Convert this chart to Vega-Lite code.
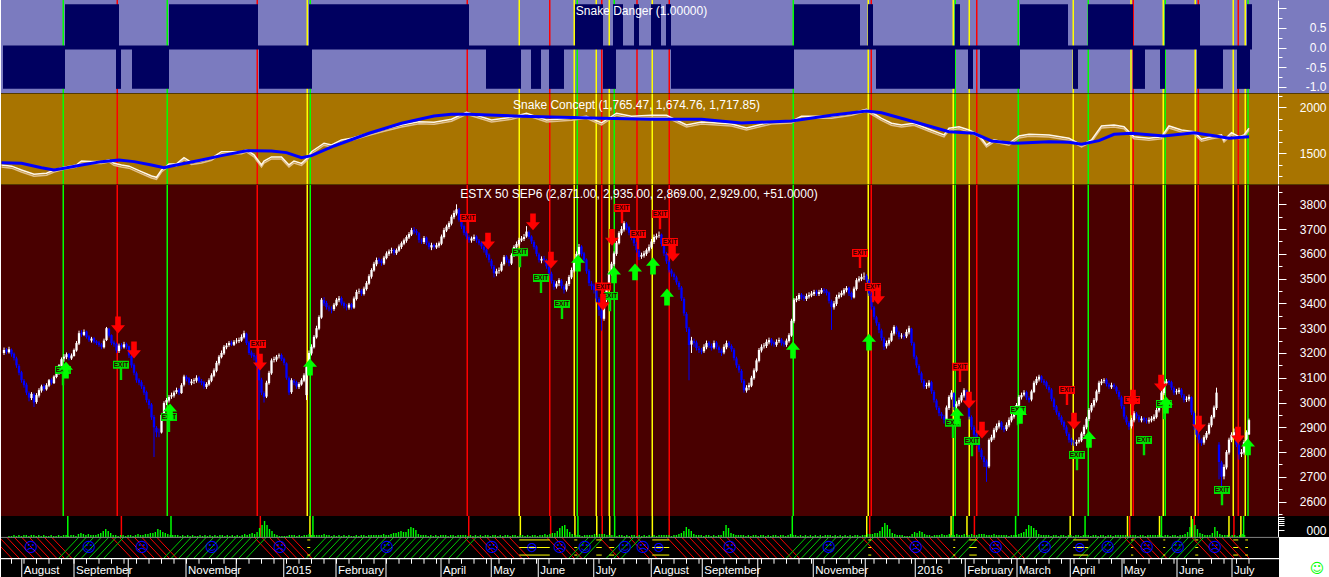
{
"$schema":"https://vega.github.io/schema/vega-lite/v6.json",
"background":"#FFFFFF",
"padding":0,
"spacing":0,
"bounds":"flush",
"config":{"view":{"stroke":null},"axis":{"labelFont":"Liberation Sans","labelColor":"#FFFFFF","domainColor":"#FFFFFF","tickColor":"#FFFFFF","grid":false},"text":{"font":"Liberation Sans"}},
"resolve":{"scale":{"x":"independent","y":"independent","color":"independent"}},
"datasets":{
"k":[
{"i":0,"o":3200,"h":3222,"l":3192,"c":3212,"v":1},{"i":1,"o":3214,"h":3220,"l":3195,"c":3205,"v":1},{"i":2,"o":3203,"h":3225,"l":3198,"c":3215,"v":2},{"i":3,"o":3213,"h":3218,"l":3185,"c":3195,"v":1},{"i":4,"o":3197,"h":3202,"l":3170,"c":3180,"v":2},{"i":5,"o":3178,"h":3185,"l":3140,"c":3150,"v":1},{"i":6,"o":3148,"h":3155,"l":3110,"c":3120,"v":2},{"i":7,"o":3122,"h":3128,"l":3080,"c":3090,"v":2},{"i":8,"o":3088,"h":3095,"l":3060,"c":3070,"v":1},{"i":9,"o":3072,"h":3080,"l":3030,"c":3040,"v":2},
{"i":10,"o":3038,"h":3045,"l":3005,"c":3020,"v":2},{"i":11,"o":3018,"h":3042,"l":3010,"c":3035,"v":1},{"i":12,"o":3033,"h":3040,"l":2982,"c":3000,"v":2},{"i":13,"o":3002,"h":3038,"l":2995,"c":3030,"v":1},{"i":14,"o":3028,"h":3058,"l":3020,"c":3050,"v":2},{"i":15,"o":3048,"h":3072,"l":3040,"c":3065,"v":1},{"i":16,"o":3067,"h":3075,"l":3045,"c":3055,"v":1},{"i":17,"o":3053,"h":3078,"l":3048,"c":3070,"v":2},{"i":18,"o":3068,"h":3095,"l":3062,"c":3090,"v":1},{"i":19,"o":3092,"h":3098,"l":3072,"c":3080,"v":1},
{"i":20,"o":3078,"h":3110,"l":3075,"c":3105,"v":2},{"i":21,"o":3103,"h":3126,"l":3098,"c":3120,"v":1},{"i":22,"o":3118,"h":3155,"l":3112,"c":3150,"v":2},{"i":23,"o":3148,"h":3182,"l":3140,"c":3175,"v":2},{"i":24,"o":3177,"h":3195,"l":3165,"c":3185,"v":1},{"i":25,"o":3183,"h":3202,"l":3175,"c":3195,"v":2},{"i":26,"o":3197,"h":3200,"l":3170,"c":3180,"v":2},{"i":27,"o":3178,"h":3198,"l":3172,"c":3190,"v":1},{"i":28,"o":3188,"h":3218,"l":3185,"c":3212,"v":3},{"i":29,"o":3210,"h":3248,"l":3205,"c":3240,"v":4},
{"i":30,"o":3238,"h":3290,"l":3232,"c":3280,"v":3},{"i":31,"o":3282,"h":3292,"l":3265,"c":3275,"v":2},{"i":32,"o":3273,"h":3295,"l":3268,"c":3285,"v":3},{"i":33,"o":3287,"h":3290,"l":3258,"c":3265,"v":2},{"i":34,"o":3267,"h":3272,"l":3245,"c":3252,"v":2},{"i":35,"o":3250,"h":3265,"l":3242,"c":3258,"v":2},{"i":36,"o":3260,"h":3265,"l":3238,"c":3245,"v":3},{"i":37,"o":3247,"h":3252,"l":3232,"c":3240,"v":4},{"i":38,"o":3242,"h":3248,"l":3225,"c":3232,"v":6},{"i":39,"o":3234,"h":3240,"l":3215,"c":3225,"v":8},
{"i":40,"o":3223,"h":3258,"l":3218,"c":3250,"v":6},{"i":41,"o":3252,"h":3305,"l":3248,"c":3300,"v":4},{"i":42,"o":3298,"h":3302,"l":3262,"c":3270,"v":2},{"i":43,"o":3272,"h":3275,"l":3232,"c":3240,"v":2},{"i":44,"o":3242,"h":3250,"l":3225,"c":3235,"v":1},{"i":45,"o":3237,"h":3242,"l":3200,"c":3210,"v":2},{"i":46,"o":3208,"h":3238,"l":3200,"c":3230,"v":2},{"i":47,"o":3232,"h":3240,"l":3215,"c":3225,"v":1},{"i":48,"o":3223,"h":3245,"l":3218,"c":3235,"v":2},{"i":49,"o":3237,"h":3242,"l":3215,"c":3225,"v":2},
{"i":50,"o":3227,"h":3230,"l":3180,"c":3190,"v":1},{"i":51,"o":3188,"h":3192,"l":3140,"c":3150,"v":2},{"i":52,"o":3152,"h":3158,"l":3110,"c":3120,"v":3},{"i":53,"o":3118,"h":3125,"l":3080,"c":3090,"v":2},{"i":54,"o":3092,"h":3098,"l":3070,"c":3080,"v":2},{"i":55,"o":3082,"h":3090,"l":3055,"c":3065,"v":3},{"i":56,"o":3063,"h":3070,"l":3030,"c":3040,"v":3},{"i":57,"o":3042,"h":3048,"l":3000,"c":3010,"v":4},{"i":58,"o":3008,"h":3015,"l":2975,"c":2990,"v":4},{"i":59,"o":2992,"h":2998,"l":2930,"c":2940,"v":5},
{"i":60,"o":2942,"h":2950,"l":2780,"c":2900,"v":8},{"i":61,"o":2898,"h":2905,"l":2860,"c":2880,"v":7},{"i":62,"o":2878,"h":2895,"l":2860,"c":2877,"v":5},{"i":63,"o":2879,"h":2958,"l":2875,"c":2950,"v":4},{"i":64,"o":2948,"h":3005,"l":2942,"c":2998,"v":3},{"i":65,"o":3000,"h":3018,"l":2990,"c":3010,"v":2},{"i":66,"o":3008,"h":3030,"l":3000,"c":3022,"v":2},{"i":67,"o":3024,"h":3040,"l":3015,"c":3030,"v":2},{"i":68,"o":3028,"h":3048,"l":3020,"c":3040,"v":2},{"i":69,"o":3042,"h":3060,"l":3035,"c":3050,"v":1},
{"i":70,"o":3052,"h":3058,"l":3030,"c":3040,"v":2},{"i":71,"o":3038,"h":3078,"l":3035,"c":3070,"v":1},{"i":72,"o":3072,"h":3112,"l":3065,"c":3105,"v":2},{"i":73,"o":3103,"h":3110,"l":3085,"c":3095,"v":1},{"i":74,"o":3097,"h":3102,"l":3070,"c":3080,"v":2},{"i":75,"o":3078,"h":3095,"l":3070,"c":3085,"v":1},{"i":76,"o":3087,"h":3098,"l":3075,"c":3090,"v":1},{"i":77,"o":3088,"h":3110,"l":3080,"c":3100,"v":2},{"i":78,"o":3102,"h":3108,"l":3078,"c":3085,"v":1},{"i":79,"o":3087,"h":3095,"l":3070,"c":3080,"v":2},
{"i":80,"o":3082,"h":3088,"l":3055,"c":3065,"v":1},{"i":81,"o":3063,"h":3082,"l":3055,"c":3075,"v":2},{"i":82,"o":3073,"h":3098,"l":3068,"c":3090,"v":1},{"i":83,"o":3088,"h":3118,"l":3082,"c":3110,"v":2},{"i":84,"o":3108,"h":3138,"l":3102,"c":3130,"v":1},{"i":85,"o":3128,"h":3168,"l":3122,"c":3160,"v":2},{"i":86,"o":3158,"h":3192,"l":3150,"c":3185,"v":2},{"i":87,"o":3183,"h":3210,"l":3178,"c":3200,"v":1},{"i":88,"o":3198,"h":3232,"l":3192,"c":3225,"v":2},{"i":89,"o":3223,"h":3240,"l":3215,"c":3230,"v":1},
{"i":90,"o":3232,"h":3248,"l":3225,"c":3240,"v":2},{"i":91,"o":3242,"h":3250,"l":3228,"c":3235,"v":1},{"i":92,"o":3233,"h":3252,"l":3228,"c":3245,"v":2},{"i":93,"o":3247,"h":3260,"l":3238,"c":3250,"v":1},{"i":94,"o":3248,"h":3262,"l":3240,"c":3252,"v":2},{"i":95,"o":3250,"h":3275,"l":3245,"c":3265,"v":3},{"i":96,"o":3263,"h":3290,"l":3258,"c":3280,"v":2},{"i":97,"o":3278,"h":3282,"l":3232,"c":3240,"v":3},{"i":98,"o":3242,"h":3248,"l":3192,"c":3200,"v":4},{"i":99,"o":3202,"h":3210,"l":3180,"c":3190,"v":3},
{"i":100,"o":3192,"h":3200,"l":3170,"c":3185,"v":5},{"i":101,"o":3187,"h":3192,"l":3140,"c":3150,"v":9},{"i":102,"o":3148,"h":3155,"l":2930,"c":3090,"v":12},{"i":103,"o":3092,"h":3100,"l":3030,"c":3040,"v":16},{"i":104,"o":3038,"h":3045,"l":3000,"c":3022,"v":12},{"i":105,"o":3024,"h":3088,"l":3018,"c":3080,"v":8},{"i":106,"o":3078,"h":3128,"l":3072,"c":3120,"v":6},{"i":107,"o":3118,"h":3178,"l":3112,"c":3170,"v":3},{"i":108,"o":3172,"h":3185,"l":3162,"c":3175,"v":2},{"i":109,"o":3173,"h":3192,"l":3165,"c":3185,"v":1},
{"i":110,"o":3187,"h":3198,"l":3178,"c":3190,"v":1},{"i":111,"o":3192,"h":3198,"l":3168,"c":3175,"v":1},{"i":112,"o":3177,"h":3182,"l":3150,"c":3160,"v":1},{"i":113,"o":3158,"h":3162,"l":3092,"c":3100,"v":2},{"i":114,"o":3098,"h":3105,"l":3030,"c":3040,"v":2},{"i":115,"o":3042,"h":3098,"l":3035,"c":3090,"v":2},{"i":116,"o":3088,"h":3095,"l":3070,"c":3080,"v":1},{"i":117,"o":3082,"h":3088,"l":3055,"c":3065,"v":2},{"i":118,"o":3063,"h":3082,"l":3055,"c":3075,"v":1},{"i":119,"o":3073,"h":3098,"l":3068,"c":3090,"v":2},
{"i":120,"o":3088,"h":3118,"l":3082,"c":3110,"v":2},{"i":121,"o":3030,"h":3160,"l":3010,"c":3143,"v":3},{"i":122,"o":3145,"h":3210,"l":3140,"c":3200,"v":2},{"i":123,"o":3198,"h":3235,"l":3190,"c":3225,"v":2},{"i":124,"o":3223,"h":3272,"l":3218,"c":3265,"v":2},{"i":125,"o":3263,"h":3310,"l":3258,"c":3300,"v":2},{"i":126,"o":3298,"h":3352,"l":3292,"c":3345,"v":2},{"i":127,"o":3343,"h":3422,"l":3338,"c":3415,"v":3},{"i":128,"o":3413,"h":3425,"l":3390,"c":3400,"v":2},{"i":129,"o":3402,"h":3410,"l":3375,"c":3385,"v":2},
{"i":130,"o":3383,"h":3392,"l":3368,"c":3380,"v":1},{"i":131,"o":3378,"h":3388,"l":3360,"c":3375,"v":2},{"i":132,"o":3377,"h":3402,"l":3370,"c":3395,"v":1},{"i":133,"o":3393,"h":3422,"l":3388,"c":3415,"v":2},{"i":134,"o":3413,"h":3430,"l":3405,"c":3420,"v":1},{"i":135,"o":3422,"h":3428,"l":3392,"c":3400,"v":2},{"i":136,"o":3402,"h":3408,"l":3380,"c":3390,"v":1},{"i":137,"o":3388,"h":3398,"l":3372,"c":3385,"v":2},{"i":138,"o":3383,"h":3402,"l":3375,"c":3395,"v":1},{"i":139,"o":3397,"h":3402,"l":3375,"c":3385,"v":1},
{"i":140,"o":3383,"h":3428,"l":3378,"c":3420,"v":2},{"i":141,"o":3418,"h":3455,"l":3412,"c":3446,"v":1},{"i":142,"o":3448,"h":3460,"l":3438,"c":3450,"v":2},{"i":143,"o":3452,"h":3458,"l":3430,"c":3440,"v":2},{"i":144,"o":3438,"h":3468,"l":3432,"c":3460,"v":1},{"i":145,"o":3458,"h":3490,"l":3452,"c":3482,"v":2},{"i":146,"o":3480,"h":3518,"l":3475,"c":3510,"v":2},{"i":147,"o":3508,"h":3542,"l":3500,"c":3535,"v":2},{"i":148,"o":3533,"h":3568,"l":3528,"c":3560,"v":2},{"i":149,"o":3558,"h":3585,"l":3550,"c":3575,"v":2},
{"i":150,"o":3577,"h":3585,"l":3560,"c":3570,"v":2},{"i":151,"o":3572,"h":3580,"l":3552,"c":3563,"v":3},{"i":152,"o":3561,"h":3592,"l":3555,"c":3585,"v":2},{"i":153,"o":3583,"h":3610,"l":3578,"c":3602,"v":2},{"i":154,"o":3600,"h":3618,"l":3592,"c":3610,"v":3},{"i":155,"o":3612,"h":3625,"l":3602,"c":3615,"v":4},{"i":156,"o":3617,"h":3622,"l":3595,"c":3605,"v":4},{"i":157,"o":3603,"h":3622,"l":3596,"c":3615,"v":5},{"i":158,"o":3613,"h":3638,"l":3608,"c":3630,"v":6},{"i":159,"o":3628,"h":3650,"l":3620,"c":3643,"v":5},
{"i":160,"o":3641,"h":3662,"l":3635,"c":3655,"v":5},{"i":161,"o":3653,"h":3675,"l":3645,"c":3668,"v":8},{"i":162,"o":3666,"h":3688,"l":3660,"c":3680,"v":10},{"i":163,"o":3678,"h":3705,"l":3672,"c":3696,"v":9},{"i":164,"o":3698,"h":3708,"l":3680,"c":3690,"v":7},{"i":165,"o":3692,"h":3700,"l":3675,"c":3685,"v":3},{"i":166,"o":3683,"h":3688,"l":3645,"c":3656,"v":2},{"i":167,"o":3654,"h":3662,"l":3640,"c":3650,"v":2},{"i":168,"o":3648,"h":3672,"l":3640,"c":3664,"v":2},{"i":169,"o":3666,"h":3670,"l":3635,"c":3645,"v":1},
{"i":170,"o":3643,"h":3650,"l":3618,"c":3628,"v":2},{"i":171,"o":3626,"h":3645,"l":3615,"c":3635,"v":1},{"i":172,"o":3637,"h":3642,"l":3618,"c":3628,"v":2},{"i":173,"o":3626,"h":3645,"l":3620,"c":3635,"v":1},{"i":174,"o":3633,"h":3650,"l":3625,"c":3643,"v":2},{"i":175,"o":3641,"h":3678,"l":3635,"c":3670,"v":2},{"i":176,"o":3668,"h":3705,"l":3662,"c":3696,"v":2},{"i":177,"o":3694,"h":3718,"l":3688,"c":3710,"v":1},{"i":178,"o":3708,"h":3732,"l":3700,"c":3724,"v":2},{"i":179,"o":3722,"h":3758,"l":3715,"c":3750,"v":2},
{"i":180,"o":3748,"h":3775,"l":3740,"c":3765,"v":1},{"i":181,"o":3763,"h":3800,"l":3755,"c":3780,"v":2},{"i":182,"o":3778,"h":3785,"l":3730,"c":3737,"v":2},{"i":183,"o":3739,"h":3745,"l":3700,"c":3710,"v":2},{"i":184,"o":3712,"h":3718,"l":3675,"c":3685,"v":2},{"i":185,"o":3687,"h":3692,"l":3660,"c":3670,"v":1},{"i":186,"o":3668,"h":3675,"l":3645,"c":3656,"v":2},{"i":187,"o":3654,"h":3670,"l":3645,"c":3662,"v":1},{"i":188,"o":3660,"h":3678,"l":3652,"c":3668,"v":2},{"i":189,"o":3670,"h":3675,"l":3645,"c":3655,"v":1},
{"i":190,"o":3653,"h":3660,"l":3635,"c":3643,"v":2},{"i":191,"o":3645,"h":3650,"l":3620,"c":3630,"v":1},{"i":192,"o":3628,"h":3635,"l":3605,"c":3615,"v":2},{"i":193,"o":3617,"h":3622,"l":3585,"c":3595,"v":2},{"i":194,"o":3597,"h":3602,"l":3565,"c":3575,"v":1},{"i":195,"o":3573,"h":3580,"l":3540,"c":3550,"v":2},{"i":196,"o":3548,"h":3555,"l":3505,"c":3522,"v":2},{"i":197,"o":3520,"h":3540,"l":3510,"c":3530,"v":1},{"i":198,"o":3532,"h":3545,"l":3520,"c":3535,"v":2},{"i":199,"o":3533,"h":3568,"l":3528,"c":3560,"v":1},
{"i":200,"o":3558,"h":3595,"l":3552,"c":3587,"v":2},{"i":201,"o":3589,"h":3595,"l":3565,"c":3575,"v":2},{"i":202,"o":3573,"h":3580,"l":3550,"c":3563,"v":1},{"i":203,"o":3561,"h":3602,"l":3555,"c":3595,"v":2},{"i":204,"o":3593,"h":3635,"l":3588,"c":3628,"v":2},{"i":205,"o":3626,"h":3650,"l":3620,"c":3640,"v":1},{"i":206,"o":3638,"h":3665,"l":3630,"c":3656,"v":2},{"i":207,"o":3654,"h":3672,"l":3648,"c":3662,"v":2},{"i":208,"o":3660,"h":3680,"l":3652,"c":3668,"v":1},{"i":209,"o":3670,"h":3712,"l":3665,"c":3690,"v":2},
{"i":210,"o":3688,"h":3695,"l":3660,"c":3668,"v":1},{"i":211,"o":3670,"h":3675,"l":3640,"c":3650,"v":2},{"i":212,"o":3648,"h":3655,"l":3618,"c":3628,"v":2},{"i":213,"o":3630,"h":3635,"l":3590,"c":3600,"v":1},{"i":214,"o":3598,"h":3605,"l":3565,"c":3575,"v":2},{"i":215,"o":3573,"h":3590,"l":3562,"c":3580,"v":2},{"i":216,"o":3582,"h":3592,"l":3565,"c":3575,"v":3},{"i":217,"o":3573,"h":3580,"l":3540,"c":3550,"v":2},{"i":218,"o":3548,"h":3555,"l":3510,"c":3522,"v":3},{"i":219,"o":3520,"h":3528,"l":3480,"c":3490,"v":4},
{"i":220,"o":3488,"h":3495,"l":3455,"c":3466,"v":4},{"i":221,"o":3468,"h":3490,"l":3460,"c":3480,"v":6},{"i":222,"o":3482,"h":3502,"l":3470,"c":3494,"v":9},{"i":223,"o":3492,"h":3498,"l":3460,"c":3470,"v":11},{"i":224,"o":3468,"h":3475,"l":3440,"c":3454,"v":12},{"i":225,"o":3456,"h":3490,"l":3448,"c":3480,"v":8},{"i":226,"o":3478,"h":3515,"l":3470,"c":3507,"v":5},{"i":227,"o":3505,"h":3545,"l":3498,"c":3535,"v":3},{"i":228,"o":3533,"h":3572,"l":3525,"c":3563,"v":2},{"i":229,"o":3561,"h":3610,"l":3555,"c":3600,"v":2},
{"i":230,"o":3598,"h":3640,"l":3590,"c":3628,"v":2},{"i":231,"o":3630,"h":3635,"l":3590,"c":3600,"v":1},{"i":232,"o":3602,"h":3608,"l":3565,"c":3575,"v":2},{"i":233,"o":3577,"h":3582,"l":3520,"c":3530,"v":2},{"i":234,"o":3532,"h":3538,"l":3470,"c":3482,"v":2},{"i":235,"o":3480,"h":3490,"l":3455,"c":3470,"v":2},{"i":236,"o":3472,"h":3480,"l":3440,"c":3454,"v":3},{"i":237,"o":3452,"h":3460,"l":3405,"c":3420,"v":2},{"i":238,"o":3418,"h":3425,"l":3350,"c":3374,"v":3},{"i":239,"o":3372,"h":3380,"l":3290,"c":3340,"v":3},
{"i":240,"o":3338,"h":3422,"l":3330,"c":3415,"v":3},{"i":241,"o":3413,"h":3478,"l":3405,"c":3470,"v":2},{"i":242,"o":3468,"h":3530,"l":3460,"c":3522,"v":2},{"i":243,"o":3520,"h":3568,"l":3512,"c":3560,"v":2},{"i":244,"o":3558,"h":3610,"l":3550,"c":3602,"v":2},{"i":245,"o":3600,"h":3652,"l":3592,"c":3645,"v":1},{"i":246,"o":3643,"h":3692,"l":3638,"c":3685,"v":2},{"i":247,"o":3683,"h":3712,"l":3675,"c":3700,"v":2},{"i":248,"o":3698,"h":3732,"l":3690,"c":3724,"v":1},{"i":249,"o":3722,"h":3728,"l":3695,"c":3705,"v":2},
{"i":250,"o":3707,"h":3712,"l":3675,"c":3685,"v":1},{"i":251,"o":3683,"h":3690,"l":3655,"c":3665,"v":2},{"i":252,"o":3667,"h":3672,"l":3632,"c":3643,"v":2},{"i":253,"o":3641,"h":3648,"l":3605,"c":3615,"v":1},{"i":254,"o":3613,"h":3620,"l":3575,"c":3587,"v":2},{"i":255,"o":3589,"h":3605,"l":3580,"c":3595,"v":1},{"i":256,"o":3593,"h":3612,"l":3585,"c":3602,"v":2},{"i":257,"o":3600,"h":3622,"l":3592,"c":3615,"v":1},{"i":258,"o":3613,"h":3638,"l":3605,"c":3628,"v":2},{"i":259,"o":3626,"h":3660,"l":3620,"c":3650,"v":1},
{"i":260,"o":3648,"h":3678,"l":3640,"c":3668,"v":2},{"i":261,"o":3666,"h":3682,"l":3658,"c":3672,"v":1},{"i":262,"o":3674,"h":3690,"l":3665,"c":3676,"v":2},{"i":263,"o":3678,"h":3682,"l":3630,"c":3640,"v":2},{"i":264,"o":3638,"h":3645,"l":3592,"c":3602,"v":2},{"i":265,"o":3600,"h":3608,"l":3560,"c":3570,"v":2},{"i":266,"o":3568,"h":3575,"l":3525,"c":3535,"v":2},{"i":267,"o":3533,"h":3540,"l":3508,"c":3520,"v":1},{"i":268,"o":3518,"h":3525,"l":3495,"c":3507,"v":2},{"i":269,"o":3505,"h":3512,"l":3475,"c":3485,"v":2},
{"i":270,"o":3483,"h":3490,"l":3455,"c":3466,"v":3},{"i":271,"o":3464,"h":3470,"l":3410,"c":3420,"v":4},{"i":272,"o":3418,"h":3425,"l":3350,"c":3360,"v":6},{"i":273,"o":3358,"h":3365,"l":3285,"c":3300,"v":10},{"i":274,"o":3298,"h":3305,"l":3090,"c":3232,"v":8},{"i":275,"o":3234,"h":3265,"l":3200,"c":3250,"v":6},{"i":276,"o":3248,"h":3258,"l":3225,"c":3240,"v":3},{"i":277,"o":3242,"h":3250,"l":3210,"c":3220,"v":2},{"i":278,"o":3218,"h":3228,"l":3200,"c":3212,"v":2},{"i":279,"o":3210,"h":3220,"l":3195,"c":3205,"v":2},
{"i":280,"o":3207,"h":3235,"l":3200,"c":3225,"v":1},{"i":281,"o":3223,"h":3250,"l":3215,"c":3240,"v":2},{"i":282,"o":3242,"h":3248,"l":3220,"c":3230,"v":2},{"i":283,"o":3228,"h":3238,"l":3210,"c":3220,"v":1},{"i":284,"o":3222,"h":3250,"l":3215,"c":3240,"v":2},{"i":285,"o":3242,"h":3248,"l":3215,"c":3225,"v":1},{"i":286,"o":3223,"h":3230,"l":3200,"c":3212,"v":2},{"i":287,"o":3210,"h":3218,"l":3188,"c":3200,"v":2},{"i":288,"o":3202,"h":3235,"l":3195,"c":3225,"v":6},{"i":289,"o":3223,"h":3250,"l":3215,"c":3240,"v":12},
{"i":290,"o":3242,"h":3248,"l":3220,"c":3230,"v":9},{"i":291,"o":3228,"h":3235,"l":3205,"c":3215,"v":4},{"i":292,"o":3213,"h":3220,"l":3170,"c":3180,"v":3},{"i":293,"o":3178,"h":3185,"l":3140,"c":3150,"v":2},{"i":294,"o":3148,"h":3155,"l":3120,"c":3130,"v":2},{"i":295,"o":3128,"h":3135,"l":3080,"c":3090,"v":2},{"i":296,"o":3088,"h":3095,"l":3040,"c":3050,"v":2},{"i":297,"o":3048,"h":3070,"l":3040,"c":3060,"v":1},{"i":298,"o":3062,"h":3080,"l":3050,"c":3070,"v":2},{"i":299,"o":3068,"h":3108,"l":3062,"c":3100,"v":1},
{"i":300,"o":3098,"h":3138,"l":3092,"c":3130,"v":2},{"i":301,"o":3128,"h":3178,"l":3122,"c":3170,"v":2},{"i":302,"o":3168,"h":3220,"l":3162,"c":3212,"v":1},{"i":303,"o":3210,"h":3235,"l":3202,"c":3225,"v":2},{"i":304,"o":3227,"h":3240,"l":3218,"c":3230,"v":2},{"i":305,"o":3228,"h":3255,"l":3220,"c":3245,"v":1},{"i":306,"o":3243,"h":3262,"l":3235,"c":3252,"v":2},{"i":307,"o":3254,"h":3260,"l":3230,"c":3240,"v":1},{"i":308,"o":3242,"h":3250,"l":3225,"c":3235,"v":2},{"i":309,"o":3233,"h":3255,"l":3225,"c":3245,"v":2},
{"i":310,"o":3247,"h":3262,"l":3240,"c":3252,"v":1},{"i":311,"o":3254,"h":3260,"l":3230,"c":3240,"v":2},{"i":312,"o":3242,"h":3250,"l":3225,"c":3235,"v":2},{"i":313,"o":3233,"h":3258,"l":3225,"c":3250,"v":1},{"i":314,"o":3248,"h":3280,"l":3242,"c":3272,"v":2},{"i":315,"o":3270,"h":3338,"l":3265,"c":3330,"v":3},{"i":316,"o":3328,"h":3422,"l":3320,"c":3415,"v":2},{"i":317,"o":3413,"h":3430,"l":3405,"c":3420,"v":2},{"i":318,"o":3418,"h":3442,"l":3410,"c":3434,"v":1},{"i":319,"o":3436,"h":3442,"l":3415,"c":3425,"v":2},
{"i":320,"o":3427,"h":3435,"l":3410,"c":3420,"v":1},{"i":321,"o":3418,"h":3440,"l":3410,"c":3430,"v":2},{"i":322,"o":3428,"h":3445,"l":3420,"c":3434,"v":1},{"i":323,"o":3432,"h":3450,"l":3425,"c":3440,"v":2},{"i":324,"o":3438,"h":3455,"l":3430,"c":3446,"v":1},{"i":325,"o":3448,"h":3455,"l":3430,"c":3440,"v":2},{"i":326,"o":3438,"h":3455,"l":3430,"c":3446,"v":1},{"i":327,"o":3444,"h":3462,"l":3438,"c":3454,"v":2},{"i":328,"o":3456,"h":3462,"l":3440,"c":3450,"v":1},{"i":329,"o":3452,"h":3458,"l":3432,"c":3442,"v":2},
{"i":330,"o":3444,"h":3448,"l":3400,"c":3410,"v":2},{"i":331,"o":3408,"h":3415,"l":3293,"c":3386,"v":2},{"i":332,"o":3384,"h":3410,"l":3375,"c":3400,"v":1},{"i":333,"o":3398,"h":3435,"l":3390,"c":3426,"v":2},{"i":334,"o":3424,"h":3445,"l":3418,"c":3435,"v":1},{"i":335,"o":3433,"h":3452,"l":3425,"c":3442,"v":2},{"i":336,"o":3440,"h":3462,"l":3432,"c":3455,"v":1},{"i":337,"o":3453,"h":3470,"l":3445,"c":3462,"v":2},{"i":338,"o":3464,"h":3468,"l":3430,"c":3440,"v":1},{"i":339,"o":3442,"h":3448,"l":3415,"c":3426,"v":2},
{"i":340,"o":3424,"h":3468,"l":3420,"c":3460,"v":1},{"i":341,"o":3458,"h":3502,"l":3452,"c":3494,"v":2},{"i":342,"o":3492,"h":3510,"l":3485,"c":3500,"v":2},{"i":343,"o":3498,"h":3520,"l":3490,"c":3507,"v":1},{"i":344,"o":3509,"h":3525,"l":3495,"c":3510,"v":2},{"i":345,"o":3512,"h":3518,"l":3485,"c":3494,"v":2},{"i":346,"o":3492,"h":3498,"l":3430,"c":3440,"v":3},{"i":347,"o":3438,"h":3445,"l":3375,"c":3386,"v":3},{"i":348,"o":3384,"h":3390,"l":3335,"c":3346,"v":3},{"i":349,"o":3344,"h":3350,"l":3310,"c":3320,"v":4},
{"i":350,"o":3318,"h":3325,"l":3280,"c":3293,"v":4},{"i":351,"o":3291,"h":3298,"l":3250,"c":3260,"v":6},{"i":352,"o":3258,"h":3265,"l":3212,"c":3225,"v":10},{"i":353,"o":3227,"h":3250,"l":3218,"c":3240,"v":14},{"i":354,"o":3238,"h":3262,"l":3230,"c":3252,"v":12},{"i":355,"o":3250,"h":3290,"l":3245,"c":3280,"v":8},{"i":356,"o":3278,"h":3312,"l":3270,"c":3305,"v":4},{"i":357,"o":3303,"h":3310,"l":3275,"c":3285,"v":3},{"i":358,"o":3283,"h":3290,"l":3255,"c":3265,"v":2},{"i":359,"o":3267,"h":3280,"l":3258,"c":3270,"v":2},
{"i":360,"o":3268,"h":3278,"l":3255,"c":3265,"v":2},{"i":361,"o":3267,"h":3295,"l":3260,"c":3285,"v":1},{"i":362,"o":3283,"h":3310,"l":3275,"c":3300,"v":1},{"i":363,"o":3298,"h":3302,"l":3230,"c":3240,"v":1},{"i":364,"o":3238,"h":3245,"l":3175,"c":3185,"v":3},{"i":365,"o":3183,"h":3190,"l":3140,"c":3150,"v":5},{"i":366,"o":3148,"h":3155,"l":3110,"c":3120,"v":4},{"i":367,"o":3118,"h":3125,"l":3080,"c":3090,"v":6},{"i":368,"o":3088,"h":3095,"l":3055,"c":3064,"v":5},{"i":369,"o":3066,"h":3080,"l":3055,"c":3070,"v":3},
{"i":370,"o":3068,"h":3090,"l":3060,"c":3080,"v":2},{"i":371,"o":3082,"h":3088,"l":3035,"c":3045,"v":2},{"i":372,"o":3043,"h":3050,"l":3000,"c":3010,"v":1},{"i":373,"o":3008,"h":3015,"l":2970,"c":2980,"v":2},{"i":374,"o":2978,"h":2985,"l":2945,"c":2957,"v":2},{"i":375,"o":2955,"h":2962,"l":2935,"c":2945,"v":2},{"i":376,"o":2943,"h":2950,"l":2915,"c":2930,"v":3},{"i":377,"o":2932,"h":2988,"l":2925,"c":2980,"v":2},{"i":378,"o":2978,"h":3030,"l":2970,"c":3023,"v":2},{"i":379,"o":3021,"h":3050,"l":3012,"c":3040,"v":3},
{"i":380,"o":3038,"h":3042,"l":2970,"c":2982,"v":2},{"i":381,"o":2984,"h":3005,"l":2975,"c":2995,"v":2},{"i":382,"o":2993,"h":3020,"l":2985,"c":3010,"v":3},{"i":383,"o":3008,"h":3040,"l":3000,"c":3030,"v":2},{"i":384,"o":3028,"h":3058,"l":3020,"c":3050,"v":2},{"i":385,"o":3048,"h":3052,"l":2990,"c":3000,"v":3},{"i":386,"o":3002,"h":3008,"l":2932,"c":2943,"v":2},{"i":387,"o":2941,"h":2948,"l":2890,"c":2902,"v":2},{"i":388,"o":2900,"h":2908,"l":2860,"c":2870,"v":3},{"i":389,"o":2872,"h":2878,"l":2825,"c":2836,"v":2},
{"i":390,"o":2834,"h":2842,"l":2800,"c":2810,"v":2},{"i":391,"o":2808,"h":2815,"l":2770,"c":2780,"v":3},{"i":392,"o":2778,"h":2785,"l":2740,"c":2760,"v":3},{"i":393,"o":2762,"h":2770,"l":2680,"c":2740,"v":3},{"i":394,"o":2742,"h":2855,"l":2735,"c":2849,"v":2},{"i":395,"o":2847,"h":2870,"l":2840,"c":2860,"v":2},{"i":396,"o":2858,"h":2898,"l":2850,"c":2890,"v":2},{"i":397,"o":2888,"h":2915,"l":2880,"c":2905,"v":3},{"i":398,"o":2903,"h":2928,"l":2895,"c":2918,"v":2},{"i":399,"o":2920,"h":2925,"l":2890,"c":2900,"v":2},
{"i":400,"o":2898,"h":2905,"l":2880,"c":2890,"v":2},{"i":401,"o":2892,"h":2920,"l":2885,"c":2910,"v":2},{"i":402,"o":2908,"h":2940,"l":2900,"c":2930,"v":2},{"i":403,"o":2928,"h":2955,"l":2920,"c":2945,"v":1},{"i":404,"o":2943,"h":2965,"l":2935,"c":2957,"v":2},{"i":405,"o":2955,"h":2998,"l":2950,"c":2990,"v":2},{"i":406,"o":2988,"h":3030,"l":2980,"c":3023,"v":2},{"i":407,"o":3021,"h":3040,"l":3012,"c":3030,"v":3},{"i":408,"o":3032,"h":3050,"l":3025,"c":3040,"v":4},{"i":409,"o":3042,"h":3048,"l":3010,"c":3020,"v":5},
{"i":410,"o":3018,"h":3025,"l":3000,"c":3010,"v":8},{"i":411,"o":3012,"h":3052,"l":3005,"c":3045,"v":12},{"i":412,"o":3043,"h":3088,"l":3038,"c":3080,"v":11},{"i":413,"o":3078,"h":3105,"l":3070,"c":3095,"v":9},{"i":414,"o":3093,"h":3112,"l":3085,"c":3104,"v":7},{"i":415,"o":3106,"h":3110,"l":3080,"c":3090,"v":3},{"i":416,"o":3088,"h":3095,"l":3070,"c":3080,"v":2},{"i":417,"o":3082,"h":3088,"l":3055,"c":3065,"v":2},{"i":418,"o":3063,"h":3070,"l":3040,"c":3050,"v":2},{"i":419,"o":3052,"h":3058,"l":3005,"c":3015,"v":2},
{"i":420,"o":3013,"h":3020,"l":2970,"c":2982,"v":1},{"i":421,"o":2984,"h":2990,"l":2950,"c":2960,"v":2},{"i":422,"o":2958,"h":2965,"l":2930,"c":2943,"v":2},{"i":423,"o":2941,"h":2948,"l":2910,"c":2920,"v":1},{"i":424,"o":2922,"h":2928,"l":2890,"c":2902,"v":2},{"i":425,"o":2900,"h":2908,"l":2865,"c":2875,"v":2},{"i":426,"o":2873,"h":2880,"l":2838,"c":2849,"v":1},{"i":427,"o":2851,"h":2858,"l":2828,"c":2840,"v":2},{"i":428,"o":2838,"h":2848,"l":2825,"c":2836,"v":2},{"i":429,"o":2834,"h":2850,"l":2825,"c":2840,"v":1},
{"i":430,"o":2842,"h":2860,"l":2835,"c":2849,"v":2},{"i":431,"o":2847,"h":2882,"l":2840,"c":2875,"v":2},{"i":432,"o":2873,"h":2910,"l":2865,"c":2902,"v":1},{"i":433,"o":2900,"h":2942,"l":2892,"c":2935,"v":2},{"i":434,"o":2933,"h":2978,"l":2925,"c":2970,"v":2},{"i":435,"o":2968,"h":2998,"l":2960,"c":2990,"v":2},{"i":436,"o":2988,"h":3018,"l":2980,"c":3010,"v":1},{"i":437,"o":3008,"h":3052,"l":3000,"c":3045,"v":2},{"i":438,"o":3043,"h":3088,"l":3035,"c":3080,"v":2},{"i":439,"o":3078,"h":3095,"l":3070,"c":3085,"v":1},
{"i":440,"o":3087,"h":3098,"l":3078,"c":3090,"v":2},{"i":441,"o":3092,"h":3098,"l":3065,"c":3075,"v":2},{"i":442,"o":3073,"h":3080,"l":3055,"c":3064,"v":1},{"i":443,"o":3062,"h":3080,"l":3055,"c":3070,"v":2},{"i":444,"o":3072,"h":3078,"l":3055,"c":3064,"v":2},{"i":445,"o":3062,"h":3068,"l":3035,"c":3045,"v":1},{"i":446,"o":3043,"h":3050,"l":3012,"c":3023,"v":2},{"i":447,"o":3021,"h":3028,"l":2975,"c":2985,"v":2},{"i":448,"o":2983,"h":2990,"l":2932,"c":2943,"v":2},{"i":449,"o":2941,"h":2948,"l":2910,"c":2920,"v":2},
{"i":450,"o":2918,"h":2925,"l":2890,"c":2902,"v":2},{"i":451,"o":2904,"h":2938,"l":2895,"c":2930,"v":1},{"i":452,"o":2928,"h":2965,"l":2920,"c":2957,"v":2},{"i":453,"o":2955,"h":2962,"l":2935,"c":2945,"v":2},{"i":454,"o":2943,"h":2950,"l":2920,"c":2930,"v":2},{"i":455,"o":2928,"h":2945,"l":2920,"c":2935,"v":1},{"i":456,"o":2937,"h":2942,"l":2920,"c":2930,"v":2},{"i":457,"o":2928,"h":2938,"l":2915,"c":2925,"v":2},{"i":458,"o":2923,"h":2940,"l":2915,"c":2930,"v":1},{"i":459,"o":2928,"h":2945,"l":2920,"c":2935,"v":2},
{"i":460,"o":2933,"h":2952,"l":2925,"c":2943,"v":2},{"i":461,"o":2941,"h":2978,"l":2935,"c":2970,"v":2},{"i":462,"o":2968,"h":3005,"l":2960,"c":2998,"v":2},{"i":463,"o":2996,"h":3048,"l":2990,"c":3040,"v":2},{"i":464,"o":3038,"h":3088,"l":3030,"c":3080,"v":2},{"i":465,"o":3078,"h":3095,"l":3070,"c":3085,"v":1},{"i":466,"o":3087,"h":3092,"l":3070,"c":3080,"v":2},{"i":467,"o":3082,"h":3088,"l":3050,"c":3060,"v":2},{"i":468,"o":3058,"h":3065,"l":3030,"c":3040,"v":1},{"i":469,"o":3042,"h":3055,"l":3032,"c":3045,"v":2},
{"i":470,"o":3043,"h":3060,"l":3035,"c":3050,"v":2},{"i":471,"o":3052,"h":3058,"l":3020,"c":3030,"v":1},{"i":472,"o":3028,"h":3035,"l":3000,"c":3010,"v":2},{"i":473,"o":3012,"h":3025,"l":3002,"c":3015,"v":2},{"i":474,"o":3013,"h":3032,"l":3005,"c":3023,"v":3},{"i":475,"o":3021,"h":3025,"l":2950,"c":2960,"v":5},{"i":476,"o":2958,"h":2965,"l":2890,"c":2902,"v":10},{"i":477,"o":2900,"h":2908,"l":2860,"c":2870,"v":18},{"i":478,"o":2868,"h":2875,"l":2835,"c":2850,"v":12},{"i":479,"o":2848,"h":2855,"l":2825,"c":2836,"v":8},
{"i":480,"o":2838,"h":2868,"l":2830,"c":2860,"v":4},{"i":481,"o":2858,"h":2885,"l":2850,"c":2877,"v":3},{"i":482,"o":2875,"h":2918,"l":2870,"c":2910,"v":2},{"i":483,"o":2908,"h":2950,"l":2900,"c":2943,"v":2},{"i":484,"o":2941,"h":2988,"l":2935,"c":2980,"v":2},{"i":485,"o":2978,"h":3060,"l":2970,"c":3040,"v":4},{"i":486,"o":2830,"h":2840,"l":2690,"c":2760,"v":10},{"i":487,"o":2758,"h":2765,"l":2660,"c":2700,"v":6},{"i":488,"o":2702,"h":2750,"l":2690,"c":2740,"v":3},{"i":489,"o":2738,"h":2808,"l":2730,"c":2800,"v":2},
{"i":490,"o":2798,"h":2858,"l":2790,"c":2850,"v":2},{"i":491,"o":2848,"h":2880,"l":2840,"c":2870,"v":2},{"i":492,"o":2868,"h":2895,"l":2860,"c":2880,"v":1},{"i":493,"o":2882,"h":2888,"l":2820,"c":2830,"v":2},{"i":494,"o":2828,"h":2835,"l":2770,"c":2790,"v":2},{"i":495,"o":2792,"h":2812,"l":2780,"c":2800,"v":1},{"i":496,"o":2798,"h":2848,"l":2790,"c":2840,"v":2},{"i":497,"o":2838,"h":2888,"l":2830,"c":2880,"v":3},{"i":498,"o":2871,"h":2935,"l":2869,"c":2929,"v":2}
],
"seg":[
{"s":-1.2,"e":23.7,"t":"R","c":10.8,"h":[-5,-2,1,4,7,10,13,16,19]},
{"s":23.7,"e":45.3,"t":"G","c":34,"h":[22,25,28,31,34,37,40]},
{"s":45.3,"e":65.3,"t":"R","c":55.2,"h":[43,46,49,52,55,58,61]},
{"s":65.3,"e":101.3,"t":"G","c":83.2,"h":[64,67,70,73,76,79,82,85,88,91,94,97]},
{"s":101.3,"e":121.3,"t":"R","c":110.4,"h":[100,103,106,109,112,115]},
{"s":121.3,"e":122.5,"t":"Y"},
{"s":122.5,"e":185.3,"t":"G","c":153.2,"h":[121,124,127,130,133,136,139,142,145,148,151,154,157,160,163,166,169,172,175,178,181]},
{"s":185.3,"e":206.1,"t":"R","c":195.2,"h":[184,187,190,193,196,199,202]},
{"s":206.1,"e":218.3,"t":"Y","c":211.2},
{"s":218.3,"e":228.1,"t":"R","c":222.4,"h":[217,220,223]},
{"s":228.1,"e":229.3,"t":"Y"},
{"s":229.3,"e":236.9,"t":"G","c":232.4,"h":[226,229,232]},
{"s":236.9,"e":239.1,"t":"Y"},
{"s":239.1,"e":242.1,"t":"R","h":[238]},
{"s":242.1,"e":244.1,"t":"Y"},
{"s":244.1,"e":253.2,"t":"G","c":248.4,"h":[241,244,247]},
{"s":253.2,"e":259.3,"t":"R","c":255.6,"h":[250,253]},
{"s":259.3,"e":266.1,"t":"Y","c":262},
{"s":266.1,"e":315.7,"t":"R","c":290.4,"h":[265,268,271,274,277,280,283,286,289,292,295,298,301,304,307,310]},
{"s":315.7,"e":345.7,"t":"G","c":330,"h":[313,316,319,322,325,328,331,334,337,340]},
{"s":345.7,"e":346.9,"t":"Y"},
{"s":346.9,"e":379.7,"t":"R","c":364.8,"h":[343,346,349,352,355,358,361,364,367,370,373]},
{"s":379.7,"e":380.5,"t":"Y"},
{"s":380.5,"e":386.1,"t":"G","h":[379,382]},
{"s":386.1,"e":389.1,"t":"Y"},
{"s":389.1,"e":405.7,"t":"R","c":396.8,"h":[388,391,394,397,400]},
{"s":405.7,"e":427.7,"t":"G","c":416.4,"h":[403,406,409,412,415,418,421]},
{"s":427.7,"e":433.7,"t":"Y","c":430.4},
{"s":433.7,"e":450.8,"t":"G","c":441.6,"h":[430,433,436,439,442,445]},
{"s":450.8,"e":451.7,"t":"Y"},
{"s":451.7,"e":463.7,"t":"R","c":457.2,"h":[448,451,454,457]},
{"s":463.7,"e":464.5,"t":"Y"},
{"s":464.5,"e":476.5,"t":"G","c":469.6,"h":[463,466,469,472]},
{"s":476.5,"e":477.7,"t":"Y"},
{"s":477.7,"e":491.7,"t":"R","c":484.4,"h":[475,478,481,484,487]},
{"s":491.7,"e":493.7,"t":"Y"},
{"s":493.7,"e":496.5,"t":"R","h":[490]},
{"s":496.5,"e":497.6,"t":"Y"},
{"s":497.6,"e":499.5,"t":"G"}
],
"dg":[
{"s":24.4,"e":46,"v":1.1},{"s":66,"e":101.6,"v":1.1},{"s":122,"e":186,"v":1.1},{"s":228.4,"e":239.6,"v":1.1},{"s":243.6,"e":247.6,"v":1.1},{"s":252,"e":254,"v":1.1},{"s":258.8,"e":262.8,"v":1.1},{"s":264.8,"e":266.8,"v":1.1},{"s":316,"e":342.4,"v":1.1},{"s":345.6,"e":347.6,"v":1.1},{"s":380.4,"e":382.4,"v":1.1},{"s":406.4,"e":425.6,"v":1.1},{"s":433.6,"e":451.6,"v":1.1},{"s":464.4,"e":478.4,"v":1.1},{"s":497.2,"e":499.2,"v":1.1},
{"s":-0.4,"e":24.4,"v":-1.05},{"s":44.8,"e":46.8,"v":-1.05},{"s":51.2,"e":66,"v":-1.05},{"s":102,"e":123.2,"v":-1.05},{"s":192.8,"e":206.8,"v":-1.05},{"s":210.8,"e":214.8,"v":-1.05},{"s":218,"e":224,"v":-1.05},{"s":239.6,"e":244.8,"v":-1.05},{"s":266.8,"e":316,"v":-1.05},{"s":348.8,"e":380.4,"v":-1.05},{"s":385.6,"e":387.6,"v":-1.05},{"s":390.4,"e":406.4,"v":-1.05},{"s":427.6,"e":429.6,"v":-1.05},{"s":451.6,"e":456.4,"v":-1.05},{"s":462.4,"e":464.4,"v":-1.05},{"s":477.2,"e":487.6,"v":-1.05},{"s":493.2,"e":498.4,"v":-1.05}
],
"cb":[
{"i":-1,"y":1398},{"i":7,"y":1391},{"i":15,"y":1343},{"i":20,"y":1318},{"i":24,"y":1337},{"i":31,"y":1373},{"i":39,"y":1409},{"i":46,"y":1427},{"i":52,"y":1409},{"i":59,"y":1373},{"i":64,"y":1343},{"i":67,"y":1362},{"i":79,"y":1427},{"i":87,"y":1474},{"i":97,"y":1528},{"i":107,"y":1525},{"i":113,"y":1507},{"i":119,"y":1452},{"i":123,"y":1474},{"i":132,"y":1579},{"i":146,"y":1717},{"i":159,"y":1826},{"i":172,"y":1905},{"i":179,"y":1924},{"i":186,"y":1924},{"i":207,"y":1902},{"i":223,"y":1891},{"i":239,"y":1880},{"i":259,"y":1870},{"i":279,"y":1870},{"i":295,"y":1830},{"i":315,"y":1850},{"i":331,"y":1913},{"i":345,"y":1960},{"i":351,"y":1941},{"i":364,"y":1843},{"i":378,"y":1735},{"i":388,"y":1717},{"i":395,"y":1634},{"i":404,"y":1609},{"i":418,"y":1626},{"i":426,"y":1620},{"i":431,"y":1598},{"i":438,"y":1637},{"i":444,"y":1706},{"i":451,"y":1717},{"i":464,"y":1688},{"i":476,"y":1724},{"i":484,"y":1691},{"i":490,"y":1663},{"i":498,"y":1680}
],
"cw":[
{"i":-1,"y":1373},{"i":3,"y":1360},{"i":7,"y":1318},{"i":12,"y":1272},{"i":17,"y":1283},{"i":20,"y":1318},{"i":24,"y":1348},{"i":29,"y":1373},{"i":31,"y":1416},{"i":35,"y":1410},{"i":39,"y":1410},{"i":42,"y":1427},{"i":44,"y":1391},{"i":47,"y":1373},{"i":50,"y":1360},{"i":54,"y":1311},{"i":59,"y":1253},{"i":61,"y":1239},{"i":63,"y":1318},{"i":66,"y":1384},{"i":69,"y":1384},{"i":72,"y":1452},{"i":75,"y":1400},{"i":79,"y":1416},{"i":83,"y":1446},{"i":87,"y":1517},{"i":91,"y":1517},{"i":95,"y":1517},{"i":97,"y":1536},{"i":100,"y":1482},{"i":103,"y":1373},{"i":104,"y":1416},{"i":107,"y":1460},{"i":111,"y":1460},{"i":114,"y":1373},{"i":116,"y":1416},{"i":119,"y":1390},{"i":121,"y":1440},{"i":123,"y":1517},{"i":128,"y":1609},{"i":131,"y":1590},{"i":135,"y":1645},{"i":139,"y":1663},{"i":146,"y":1717},{"i":152,"y":1761},{"i":159,"y":1808},{"i":166,"y":1843},{"i":172,"y":1837},{"i":179,"y":1870},{"i":185,"y":1946},{"i":195,"y":1862},{"i":203,"y":1891},{"i":209,"y":1935},{"i":217,"y":1862},{"i":227,"y":1880},{"i":233,"y":1902},{"i":239,"y":1830},{"i":245,"y":1935},{"i":251,"y":1902},{"i":259,"y":1913},{"i":265,"y":1913},{"i":273,"y":1808},{"i":279,"y":1840},{"i":291,"y":1818},{"i":297,"y":1775},{"i":307,"y":1840},{"i":315,"y":1850},{"i":319,"y":1902},{"i":331,"y":1902},{"i":339,"y":1935},{"i":345,"y":1978},{"i":349,"y":1913},{"i":351,"y":1880},{"i":355,"y":1826},{"i":359,"y":1808},{"i":364,"y":1826},{"i":370,"y":1761},{"i":376,"y":1699},{"i":378,"y":1772},{"i":382,"y":1789},{"i":386,"y":1753},{"i":390,"y":1699},{"i":393,"y":1590},{"i":396,"y":1645},{"i":402,"y":1609},{"i":406,"y":1688},{"i":410,"y":1706},{"i":418,"y":1699},{"i":426,"y":1663},{"i":431,"y":1590},{"i":435,"y":1645},{"i":439,"y":1797},{"i":444,"y":1808},{"i":448,"y":1789},{"i":452,"y":1680},{"i":458,"y":1663},{"i":463,"y":1680},{"i":466,"y":1797},{"i":471,"y":1753},{"i":476,"y":1735},{"i":479,"y":1652},{"i":483,"y":1680},{"i":487,"y":1699},{"i":488,"y":1645},{"i":491,"y":1724},{"i":494,"y":1680},{"i":496,"y":1699},{"i":498,"y":1772}
],
"ar":[
{"i":24.8,"p":3131,"t":"U"},{"i":66.4,"p":2962,"t":"U"},{"i":122.4,"p":3143,"t":"U"},{"i":229.6,"p":3563,"t":"U"},{"i":244,"p":3515,"t":"U"},{"i":252.4,"p":3527,"t":"U"},{"i":259.6,"p":3551,"t":"U"},{"i":265.2,"p":3426,"t":"U"},{"i":315.6,"p":3212,"t":"U"},{"i":346,"p":3244,"t":"U"},{"i":381.2,"p":2945,"t":"U"},{"i":406.4,"p":2948,"t":"U"},{"i":434,"p":2851,"t":"U"},{"i":464.8,"p":2990,"t":"U"},{"i":497.6,"p":2821,"t":"U"},
{"i":45.6,"p":3313,"t":"D"},{"i":52,"p":3212,"t":"D"},{"i":102.4,"p":3163,"t":"D"},{"i":193.6,"p":3651,"t":"D"},{"i":211.6,"p":3729,"t":"D"},{"i":218.8,"p":3575,"t":"D"},{"i":239.6,"p":3405,"t":"D"},{"i":243.2,"p":3667,"t":"D"},{"i":267.6,"p":3603,"t":"D"},{"i":349.6,"p":3430,"t":"D"},{"i":386,"p":3010,"t":"D"},{"i":391.2,"p":2889,"t":"D"},{"i":428,"p":2925,"t":"D"},{"i":451.6,"p":3018,"t":"D"},{"i":462.8,"p":3078,"t":"D"},{"i":478,"p":2913,"t":"D"},{"i":493.6,"p":2868,"t":"D"}
],
"ex":[
{"i":23.6,"p":3131,"t":"G"},{"i":46.8,"p":3152,"t":"G"},{"i":66,"p":2942,"t":"G"},{"i":206.4,"p":3607,"t":"G"},{"i":214.8,"p":3503,"t":"G"},{"i":223.2,"p":3398,"t":"G"},{"i":242.4,"p":3430,"t":"G"},{"i":379.6,"p":2918,"t":"G"},{"i":387.2,"p":2845,"t":"G"},{"i":405.6,"p":2970,"t":"G"},{"i":429.2,"p":2788,"t":"G"},{"i":456,"p":2849,"t":"G"},{"i":464,"p":2994,"t":"G"},{"i":487.2,"p":2647,"t":"G"},
{"i":101.6,"p":3236,"t":"R"},{"i":185.6,"p":3745,"t":"R"},{"i":239.6,"p":3468,"t":"R"},{"i":247.2,"p":3785,"t":"R"},{"i":253.6,"p":3680,"t":"R"},{"i":262.4,"p":3761,"t":"R"},{"i":266.4,"p":3648,"t":"R"},{"i":342.4,"p":3604,"t":"R"},{"i":347.6,"p":3466,"t":"R"},{"i":382.4,"p":3144,"t":"R"},{"i":425.2,"p":3051,"t":"R"},{"i":451.2,"p":3010,"t":"R"}
],
"mo":[
{"i":7.1,"m":"August"},{"i":28,"m":"September"},{"i":49.7,"m":""},{"i":72.8,"m":"November"},{"i":92.9,"m":""},{"i":111.9,"m":"2015"},{"i":132.8,"m":"February"},{"i":152.8,"m":""},{"i":174.8,"m":"April"},{"i":194.9,"m":"May"},{"i":213.7,"m":"June"},{"i":235.9,"m":"July"},{"i":258.9,"m":"August"},{"i":279.3,"m":"September"},{"i":301.5,"m":""},{"i":323.7,"m":"November"},{"i":344.5,"m":""},{"i":364.5,"m":"2016"},{"i":384.5,"m":"February"},{"i":405.2,"m":"March"},{"i":426.5,"m":"April"},{"i":447.2,"m":"May"},{"i":469.2,"m":"June"},{"i":491.2,"m":"July"}
]
},
"vconcat":[
{
"width":1329,"height":93,
"view":{"fill":"#7B7BBF","stroke":null},
"resolve":{"axis":{"y":"independent"}},
"layer":[
{"data":{"name":"seg"},"transform":[{"filter":"datum.s>0"}],"mark":{"type":"rule","strokeWidth":1.5,"clip":true},
"encoding":{"x":{"field":"s","type":"quantitative","scale":{"domain":[-1.2,530.4],"nice":false,"zero":false},"axis":null},
"color":{"field":"t","type":"nominal","scale":{"domain":["G","R","Y"],"range":["#00FF00","#FF0000","#FFFF00"]},"legend":null}}},
{"data":{"name":"dg"},"mark":{"type":"rect","color":"#000060","clip":true},
"encoding":{"x":{"field":"s","type":"quantitative","axis":null},"x2":{"field":"e"},
"y":{"field":"v","type":"quantitative","scale":{"domain":[-1.155,1.206],"nice":false,"zero":false},
"axis":{"orient":"right","offset":-52,"title":null,"values":[-1,-0.5,0,0.5,1],"labelExpr":"datum.value==-1?'-1.0':datum.value==-0.5?'-0.5':datum.value==0?'0.0':datum.value==0.5?'0.5':''","tickSize":8,"labelAlign":"right","labelPadding":40,"labelFontSize":12,"labelOverlap":false,"labelFlush":false,"labelBound":false}},
"y2":{"datum":0}}},
{"data":{"values":[{"a":-0.4,"b":499.2}]},"mark":{"type":"rect","color":"#000060"},
"encoding":{"x":{"field":"a","type":"quantitative","axis":null},"x2":{"field":"b"},"y":{"datum":-0.05,"type":"quantitative","axis":null},"y2":{"datum":0.05}}},
{"data":{"values":[{}]},"mark":{"type":"text","color":"#FFFFFF","fontSize":12},
"encoding":{"x":{"datum":255,"type":"quantitative","axis":null},
"y":{"datum":0.93,"type":"quantitative","axis":{"orient":"right","offset":-52,"title":null,"values":[-0.75,-0.25,0.25,0.75],"labels":false,"domain":false,"tickSize":4}},
"text":{"value":"Snake Danger (1.00000)"}}}
]
},
{
"width":1329,"height":92,
"view":{"fill":"#A87400","stroke":null},
"resolve":{"axis":{"y":"independent"}},
"layer":[
{"data":{"name":"seg"},"transform":[{"filter":"datum.s>0"}],"mark":{"type":"rule","strokeWidth":1.5,"clip":true},
"encoding":{"x":{"field":"s","type":"quantitative","scale":{"domain":[-1.2,530.4],"nice":false,"zero":false},"axis":null},
"color":{"field":"t","type":"nominal","scale":{"domain":["G","R","Y"],"range":["#00FF00","#FF0000","#FFFF00"]},"legend":null}}},
{"data":{"name":"cw"},"mark":{"type":"line","color":"#E0C090","strokeWidth":1.5,"yOffset":2,"clip":true},
"encoding":{"x":{"field":"i","type":"quantitative","axis":null},"y":{"field":"y","type":"quantitative","axis":null}}},
{"data":{"name":"cw"},"mark":{"type":"line","color":"#FFF8EC","strokeWidth":1.5,"clip":true},
"encoding":{"x":{"field":"i","type":"quantitative","axis":null},"y":{"field":"y","type":"quantitative","axis":null}}},
{"data":{"name":"cb"},"mark":{"type":"line","color":"#0000FF","strokeWidth":3,"clip":true},
"encoding":{"x":{"field":"i","type":"quantitative","axis":null},
"y":{"field":"y","type":"quantitative","scale":{"domain":[1155,2155],"nice":false,"zero":false},
"axis":{"orient":"right","offset":-52,"title":null,"values":[1500,2000],"format":"d","tickSize":8,"labelAlign":"right","labelPadding":40,"labelFontSize":12,"labelOverlap":false,"labelFlush":false,"labelBound":false}}}},
{"data":{"values":[{"a":-1.2,"b":530.4,"y":2155},{"a":-1.2,"b":530.4,"y":1155}]},"mark":{"type":"rule","color":"#000000","strokeWidth":1.2,"clip":true},
"encoding":{"x":{"field":"a","type":"quantitative","axis":null},"x2":{"field":"b"},"y":{"field":"y","type":"quantitative","axis":null}}},
{"data":{"values":[{}]},"mark":{"type":"text","color":"#FFFFFF","fontSize":12},
"encoding":{"x":{"datum":253,"type":"quantitative","axis":null},
"y":{"datum":2025,"type":"quantitative","axis":{"orient":"right","offset":-52,"title":null,"values":[1250,1375,1625,1750,1875,2125],"labels":false,"domain":false,"tickSize":4}},
"text":{"value":"Snake Concept (1,765.47, 1,674.76, 1,717.85)"}}}
]
},
{
"width":1329,"height":331,
"view":{"fill":"#490000","stroke":null},
"resolve":{"axis":{"y":"independent"}},
"layer":[
{"data":{"name":"seg"},"transform":[{"filter":"datum.s>0"}],"mark":{"type":"rule","strokeWidth":1.5,"clip":true},
"encoding":{"x":{"field":"s","type":"quantitative","scale":{"domain":[-1.2,530.4],"nice":false,"zero":false},"axis":null},
"color":{"field":"t","type":"nominal","scale":{"domain":["G","R","Y"],"range":["#00FF00","#FF0000","#FFFF00"]},"legend":null}}},
{"data":{"name":"k"},"mark":{"type":"rule","strokeWidth":1,"clip":true},
"encoding":{"x":{"field":"i","type":"quantitative","axis":null},
"y":{"field":"l","type":"quantitative","scale":{"domain":[2542,3878],"nice":false,"zero":false},
"axis":{"orient":"right","offset":-52,"title":null,"values":[2600,2700,2800,2900,3000,3100,3200,3300,3400,3500,3600,3700,3800],"format":"d","tickSize":8,"labelAlign":"right","labelPadding":40,"labelFontSize":12,"labelOverlap":false,"labelFlush":false,"labelBound":false}},
"y2":{"field":"h"},
"stroke":{"condition":{"test":"datum.c<datum.o","value":"#0000FF"},"value":"#FFFFFF"}}},
{"data":{"name":"k"},"mark":{"type":"rule","strokeWidth":2.3,"strokeCap":"butt","clip":true},
"encoding":{"x":{"field":"i","type":"quantitative","axis":null},"y":{"field":"o","type":"quantitative","axis":null},"y2":{"field":"c"},
"stroke":{"condition":{"test":"datum.c<datum.o","value":"#0000FF"},"value":"#FFFFFF"}}},
{"data":{"name":"ex"},"mark":{"type":"point","shape":"M-1,-0.5L1,-0.5L1,0.5L0.15,0.5L0.15,1.9L-0.15,1.9L-0.15,0.5L-1,0.5Z","filled":true,"opacity":1,"size":256,"strokeWidth":0},
"encoding":{"x":{"field":"i","type":"quantitative","axis":null},"y":{"field":"p","type":"quantitative","axis":null},
"fill":{"condition":{"test":"datum.t=='G'","value":"#00E000"},"value":"#FF0000"}}},
{"data":{"name":"ex"},"mark":{"type":"text","text":"EXIT","fontSize":6.5,"fontWeight":"bold","color":"#300000"},
"encoding":{"x":{"field":"i","type":"quantitative","axis":null},"y":{"field":"p","type":"quantitative","axis":null}}},
{"data":{"name":"ar"},"transform":[{"filter":"datum.t=='U'"}],"mark":{"type":"point","shape":"M0,-1.2L1,-0.05L0.4,-0.05L0.4,1.2L-0.4,1.2L-0.4,-0.05L-1,-0.05Z","filled":true,"opacity":1,"size":196,"color":"#00FF00","strokeWidth":0},
"encoding":{"x":{"field":"i","type":"quantitative","axis":null},"y":{"field":"p","type":"quantitative","axis":null}}},
{"data":{"name":"ar"},"transform":[{"filter":"datum.t=='D'"}],"mark":{"type":"point","shape":"M0,1.2L1,0.05L0.4,0.05L0.4,-1.2L-0.4,-1.2L-0.4,0.05L-1,0.05Z","filled":true,"opacity":1,"size":196,"color":"#FF0000","strokeWidth":0},
"encoding":{"x":{"field":"i","type":"quantitative","axis":null},"y":{"field":"p","type":"quantitative","axis":null}}},
{"data":{"values":[{}]},"mark":{"type":"text","color":"#FFFFFF","fontSize":12},
"encoding":{"x":{"datum":254,"type":"quantitative","axis":null},
"y":{"datum":3842,"type":"quantitative","axis":{"orient":"right","offset":-52,"title":null,"values":[2550,2650,2750,2850,2950,3050,3150,3250,3350,3450,3550,3650,3750,3850],"labels":false,"domain":false,"tickSize":4}},
"text":{"value":"ESTX 50 SEP6 (2,871.00, 2,935.00, 2,869.00, 2,929.00, +51.0000)"}}}
]
},
{
"width":1329,"height":21,
"view":{"fill":"#000000","stroke":null},
"layer":[
{"data":{"name":"seg"},"transform":[{"filter":"datum.s>0"}],"mark":{"type":"rule","strokeWidth":1.5,"clip":true},
"encoding":{"x":{"field":"s","type":"quantitative","scale":{"domain":[-1.2,530.4],"nice":false,"zero":false},"axis":null},
"color":{"field":"t","type":"nominal","scale":{"domain":["G","R","Y"],"range":["#00FF00","#FF0000","#FFFF00"]},"legend":null}}},
{"data":{"name":"k"},"mark":{"type":"bar","size":1.4,"color":"#00FF00","clip":true},
"encoding":{"x":{"field":"i","type":"quantitative","axis":null},
"y":{"field":"v","type":"quantitative","scale":{"domain":[0,21],"nice":false,"zero":true},
"axis":{"orient":"right","offset":-52,"title":null,"values":[7,12,14,16,18,20],"labelExpr":"datum.value==7 ? '000' : ''","tickSize":6,"labelAlign":"right","labelPadding":42,"labelFontSize":12,"labelOverlap":false,"labelFlush":false}}}}
]
},
{
"width":1329,"height":21,
"view":{"stroke":null},
"layer":[
{"data":{"values":[{"a":-1.2,"b":510,"y0":0,"y1":1}]},"mark":{"type":"rect","color":"#000000"},
"encoding":{"x":{"field":"a","type":"quantitative","scale":{"domain":[-1.2,530.4],"nice":false,"zero":false},"axis":null},"x2":{"field":"b"},
"y":{"field":"y0","type":"quantitative","scale":{"domain":[0,1],"nice":false,"zero":false},"axis":null},"y2":{"field":"y1"}}},
{"data":{"name":"seg"},"transform":[{"filter":"datum.t=='R' && isArray(datum.h)"},{"flatten":["h"]}],"mark":{"type":"rule","color":"#FF0000","strokeWidth":1,"x2Offset":20,"clip":true},
"encoding":{"x":{"field":"h","type":"quantitative","axis":null},"x2":{"field":"h"},"y":{"datum":1,"type":"quantitative","axis":null},"y2":{"datum":0}}},
{"data":{"name":"seg"},"transform":[{"filter":"datum.t=='G' && isArray(datum.h)"},{"flatten":["h"]}],"mark":{"type":"rule","color":"#00CC00","strokeWidth":1,"x2Offset":20,"clip":true},
"encoding":{"x":{"field":"h","type":"quantitative","axis":null},"x2":{"field":"h"},"y":{"datum":0,"type":"quantitative","axis":null},"y2":{"datum":1}}},
{"data":{"name":"seg"},"transform":[{"filter":"datum.t=='Y'"}],"mark":{"type":"rule","color":"#FFFF00","strokeWidth":1},
"encoding":{"x":{"field":"s","type":"quantitative","axis":null},"x2":{"field":"e"},"y":{"datum":0.86,"type":"quantitative","axis":null}}},
{"data":{"name":"seg"},"transform":[{"filter":"datum.t=='Y'"}],"mark":{"type":"rule","color":"#FFFF00","strokeWidth":1},
"encoding":{"x":{"field":"s","type":"quantitative","axis":null},"x2":{"field":"e"},"y":{"datum":0.5,"type":"quantitative","axis":null}}},
{"data":{"name":"seg"},"transform":[{"filter":"datum.t=='Y'"}],"mark":{"type":"rule","color":"#FFFF00","strokeWidth":1},
"encoding":{"x":{"field":"s","type":"quantitative","axis":null},"x2":{"field":"e"},"y":{"datum":0.14,"type":"quantitative","axis":null}}},
{"data":{"values":[{"a":-1.2,"b":510}]},"mark":{"type":"rule","color":"#808080","strokeWidth":1},
"encoding":{"x":{"field":"a","type":"quantitative","axis":null},"x2":{"field":"b"},"y":{"datum":0.98,"type":"quantitative","axis":null}}},
{"data":{"name":"seg"},"transform":[{"filter":"isValid(datum.c) && datum.t=='R'"}],"mark":{"type":"text","text":"☹","color":"#0000FF","fontSize":14,"font":"DejaVu Sans","baseline":"middle"},
"encoding":{"x":{"field":"c","type":"quantitative","axis":null},"y":{"datum":0.5,"type":"quantitative","axis":null}}},
{"data":{"name":"seg"},"transform":[{"filter":"isValid(datum.c) && datum.t=='G'"}],"mark":{"type":"text","text":"☺","color":"#0000FF","fontSize":14,"font":"DejaVu Sans","baseline":"middle"},
"encoding":{"x":{"field":"c","type":"quantitative","axis":null},"y":{"datum":0.5,"type":"quantitative","axis":null}}},
{"data":{"name":"seg"},"transform":[{"filter":"isValid(datum.c) && datum.t=='Y'"}],"mark":{"type":"text","text":"⊜","color":"#0000FF","fontSize":14,"font":"DejaVu Sans","baseline":"middle"},
"encoding":{"x":{"field":"c","type":"quantitative","axis":null},"y":{"datum":0.5,"type":"quantitative","axis":null}}}
]
},
{
"width":1329,"height":19,
"view":{"stroke":null},
"layer":[
{"data":{"values":[{"a":-1.2,"b":510,"y0":0,"y1":1}]},"mark":{"type":"rect","color":"#000000"},
"encoding":{"x":{"field":"a","type":"quantitative","scale":{"domain":[-1.2,530.4],"nice":false,"zero":false},"axis":null},"x2":{"field":"b"},
"y":{"field":"y0","type":"quantitative","scale":{"domain":[0,1],"nice":false,"zero":false},"axis":null},"y2":{"field":"y1"}}},
{"data":{"values":[{"a":-1.2,"b":510}]},"mark":{"type":"rule","color":"#FFFFFF","strokeWidth":1.2},
"encoding":{"x":{"field":"a","type":"quantitative","axis":null},"x2":{"field":"b"},"y":{"datum":0.97,"type":"quantitative","axis":null}}},
{"data":{"name":"mo"},"mark":{"type":"rule","color":"#FFFFFF","strokeWidth":1},
"encoding":{"x":{"field":"i","type":"quantitative","axis":null},"y":{"datum":1,"type":"quantitative","axis":null},"y2":{"datum":0}}},
{"data":{"name":"k"},"transform":[{"filter":"datum.i%5==3"}],"mark":{"type":"rule","color":"#FFFFFF","strokeWidth":1},
"encoding":{"x":{"field":"i","type":"quantitative","axis":null},"y":{"datum":1,"type":"quantitative","axis":null},"y2":{"datum":0.7}}},
{"data":{"name":"mo"},"mark":{"type":"text","color":"#FFFFFF","fontSize":11.5,"align":"left","baseline":"middle","dx":2},
"encoding":{"x":{"field":"i","type":"quantitative","axis":null},"y":{"datum":0.33,"type":"quantitative","axis":null},"text":{"field":"m","type":"nominal"}}},
{"data":{"values":[{}]},"mark":{"type":"text","text":"☺","color":"#00FF00","fontSize":14,"font":"DejaVu Sans","baseline":"middle"},
"encoding":{"x":{"datum":525.2,"type":"quantitative","axis":null},"y":{"datum":0.42,"type":"quantitative","axis":null}}}
]
}
]
}
